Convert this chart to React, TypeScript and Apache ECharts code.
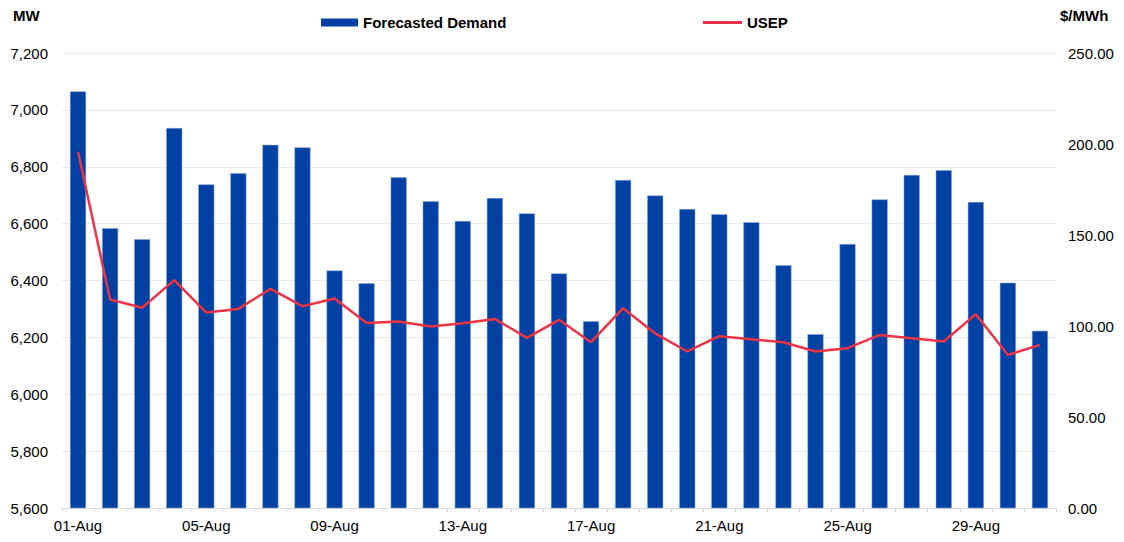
import React, { useEffect, useRef } from "react";
import * as echarts from "echarts";

const categories: string[] = Array.from({ length: 31 }, (_, i) => `${String(i + 1).padStart(2, "0")}-Aug`);

const forecastedDemand: number[] = [
  7065, 6584, 6545, 6936, 6738, 6777, 6877, 6868, 6435, 6390,
  6763, 6679, 6609, 6690, 6636, 6425, 6257, 6753, 6699, 6651,
  6633, 6605, 6454, 6211, 6528, 6685, 6771, 6788, 6676, 6392,
  6223,
];

const usep: number[] = [
  195.7, 114.6, 110.0, 125.2, 107.4, 109.4, 120.4, 110.9, 115.1, 101.7,
  102.5, 99.7, 101.5, 103.9, 93.5, 103.4, 91.1, 109.8, 95.9, 86.0,
  94.4, 92.7, 91.1, 86.0, 87.8, 95.1, 93.3, 91.5, 106.5, 84.1,
  89.6,
];

const FONT = "'Liberation Sans', Arial, sans-serif";
const BLUE = "#0041A3";
const RED = "#EE3344";

export default function App() {
  const ref = useRef<HTMLDivElement>(null);
  useEffect(() => {
    if (!ref.current) return;
    const chart = echarts.init(ref.current, null, { renderer: "svg" });
    chart.setOption({
      animation: false,
      backgroundColor: "#ffffff",
      textStyle: { fontFamily: FONT },
      grid: { left: 62, right: 68, top: 53, bottom: 34, containLabel: false },
      legend: [
        {
          data: [{ name: "Forecasted Demand", icon: "rect" }],
          left: 321,
          top: 15,
          padding: 0,
          itemWidth: 37,
          itemHeight: 8,
          itemGap: 5,
          itemStyle: { borderWidth: 0 },
          textStyle: { fontFamily: FONT, fontSize: 15, fontWeight: "bold", color: "#000" },
        },
        {
          data: [{ name: "USEP", icon: "rect" }],
          left: 703,
          top: 15,
          padding: 0,
          itemWidth: 39,
          itemHeight: 3,
          itemGap: 5,
          itemStyle: { borderWidth: 0 },
          textStyle: { fontFamily: FONT, fontSize: 15, fontWeight: "bold", color: "#000" },
        },
      ],
      graphic: [
        {
          type: "text",
          left: 13,
          top: 8,
          style: { text: "MW", fontFamily: FONT, fontSize: 15, fontWeight: "bold", fill: "#000" },
        },
        {
          type: "text",
          left: 1060,
          top: 8,
          style: { text: "$/MWh", fontFamily: FONT, fontSize: 15, fontWeight: "bold", fill: "#000" },
        },
      ],
      xAxis: {
        type: "category",
        data: categories,
        boundaryGap: true,
        axisLine: { show: true, lineStyle: { color: "#d9d9d9", width: 1 } },
        axisTick: { show: true, interval: 0, length: 4, lineStyle: { color: "#d9d9d9" } },
        axisLabel: { interval: 3, margin: 10, fontFamily: FONT, fontSize: 15, color: "#000" },
        splitLine: { show: false },
      },
      yAxis: [
        {
          type: "value",
          min: 5600,
          max: 7200,
          interval: 200,
          position: "left",
          axisLine: { show: false },
          axisTick: { show: false },
          axisLabel: {
            margin: 14,
            fontFamily: FONT,
            fontSize: 15,
            color: "#000",
            formatter: (v: number) => v.toLocaleString("en-US"),
          },
          splitLine: { show: true, lineStyle: { color: "#ebebeb", width: 1 } },
        },
        {
          type: "value",
          min: 0,
          max: 250,
          interval: 50,
          position: "right",
          axisLine: { show: false },
          axisTick: { show: false },
          axisLabel: {
            margin: 12,
            fontFamily: FONT,
            fontSize: 15,
            color: "#000",
            formatter: (v: number) => v.toFixed(2),
          },
          splitLine: { show: false },
        },
      ],
      series: [
        {
          name: "Forecasted Demand",
          type: "bar",
          yAxisIndex: 0,
          data: forecastedDemand,
          barWidth: 16,
          itemStyle: { color: BLUE, borderColor: "#8aa6d6", borderWidth: 0.5 },
        },
        {
          name: "USEP",
          type: "line",
          yAxisIndex: 1,
          data: usep,
          showSymbol: false,
          symbol: "none",
          lineStyle: { color: RED, width: 2.5 },
          itemStyle: { color: RED },
        },
      ],
    });
    return () => chart.dispose();
  }, []);
  return (
    <div
      ref={ref}
      style={{ position: "fixed", left: 0, top: 0, width: 1124, height: 542, background: "#fff" }}
    />
  );
}
